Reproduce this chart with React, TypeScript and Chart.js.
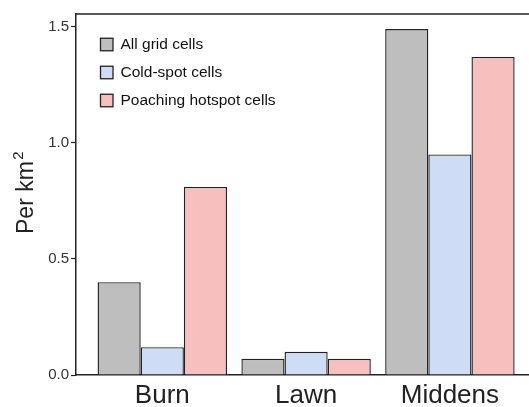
import React, { useEffect, useRef } from "react";
import { Chart, registerables } from "chart.js";

Chart.register(...registerables);

// Densities per km² by habitat type
const categories = ["Burn", "Lawn", "Middens"];
const allGridCells = [0.4, 0.07, 1.49];
const coldSpotCells = [0.12, 0.1, 0.95];
const hotspotCells = [0.81, 0.07, 1.37];
const seriesLabels = ["All grid cells", "Cold-spot cells", "Poaching hotspot cells"];
const yTickValues = [0, 0.5, 1.0, 1.5];
const yTitle = "Per km";
const yTitleSup = "2";

const seriesColors = ["#bebebe", "#cfdcf6", "#f8bfbf"];
const FONT = "'Liberation Sans', Arial, Helvetica, sans-serif";
const INK = "#222222";

// Legend drawn inside the plot, top-left
const insetLegend = {
  id: "insetLegend",
  afterDraw(chart: any) {
    const { ctx, chartArea } = chart;
    const boxX = chartArea.left + 24.5;
    const firstRow = chartArea.top + 30.5;
    const rowGap = 28;
    const box = 12.5;
    ctx.save();
    chart.data.datasets.forEach((ds: any, i: number) => {
      const cy = firstRow + i * rowGap;
      ctx.fillStyle = ds.backgroundColor;
      ctx.fillRect(boxX, cy - box / 2, box, box);
      ctx.strokeStyle = INK;
      ctx.lineWidth = 1.3;
      ctx.strokeRect(boxX, cy - box / 2, box, box);
      ctx.fillStyle = "#111111";
      ctx.font = `15.5px ${FONT}`;
      ctx.textBaseline = "middle";
      ctx.textAlign = "left";
      ctx.fillText(ds.label, boxX + 20, cy + 0.5);
    });
    ctx.restore();
  },
};

// Top edge of the plot frame
const frameTop = {
  id: "frameTop",
  afterDraw(chart: any) {
    const { ctx, chartArea } = chart;
    ctx.save();
    ctx.strokeStyle = INK;
    ctx.lineWidth = 1.5;
    ctx.beginPath();
    ctx.moveTo(chartArea.left, chartArea.top);
    ctx.lineTo(chartArea.right, chartArea.top);
    ctx.stroke();
    ctx.restore();
  },
};

// Rotated y-axis title with a superscript unit exponent
const yAxisTitle = {
  id: "yAxisTitle",
  afterDraw(chart: any) {
    const { ctx, chartArea } = chart;
    ctx.save();
    ctx.translate(33, chartArea.bottom - 141);
    ctx.rotate(-Math.PI / 2);
    ctx.fillStyle = INK;
    ctx.textBaseline = "alphabetic";
    ctx.textAlign = "left";
    ctx.font = `23px ${FONT}`;
    ctx.fillText(yTitle, 0, 0);
    const w = ctx.measureText(yTitle).width;
    ctx.font = `15px ${FONT}`;
    ctx.fillText(yTitleSup, w + 1.5, -10.5);
    ctx.restore();
  },
};

export default function App() {
  const canvasRef = useRef<HTMLCanvasElement | null>(null);

  useEffect(() => {
    const canvas = canvasRef.current;
    if (!canvas) return;
    const seriesValues = [allGridCells, coldSpotCells, hotspotCells];
    const chart = new Chart(canvas, {
      type: "bar",
      data: {
        datasets: seriesValues.map((vals, s) => ({
          label: seriesLabels[s],
          data: categories.map((_, i) => ({ x: i, y: vals[i] })),
          backgroundColor: seriesColors[s],
          borderColor: INK,
          borderWidth: 1.4,
          borderSkipped: "start",
          categoryPercentage: 0.9,
          barPercentage: 1.0,
        })),
      },
      options: {
        animation: false,
        responsive: false,
        layout: { padding: { top: 14, left: 0, right: 0, bottom: 0 } },
        plugins: {
          legend: { display: false },
          tooltip: { enabled: false },
        },
        scales: {
          x: {
            type: "linear",
            min: -0.6,
            max: 2.55,
            offset: false,
            z: 1,
            afterBuildTicks: (scale: any) => {
              scale.ticks = categories.map((_, i) => ({ value: i }));
            },
            afterFit: (scale: any) => {
              scale.height = 32;
            },
            grid: { display: true, offset: false, drawOnChartArea: false, drawTicks: false },
            border: { display: true, color: INK, width: 1.5 },
            ticks: {
              padding: 5,
              autoSkip: false,
              maxRotation: 0,
              color: INK,
              font: { family: FONT, size: 26 },
              callback: (v: any) => categories[Math.round(Number(v))] ?? "",
            },
          },
          y: {
            min: 0,
            max: 1.555,
            afterBuildTicks: (scale: any) => {
              scale.ticks = yTickValues.map((v) => ({ value: v }));
            },
            afterFit: (scale: any) => {
              scale.width = 76;
            },
            grid: {
              display: true,
              drawOnChartArea: false,
              drawTicks: true,
              tickLength: 5,
              tickColor: INK,
              tickWidth: 1.2,
            },
            border: { display: true, color: INK, width: 1.5 },
            ticks: {
              padding: 2,
              color: "#333333",
              font: { family: FONT, size: 15 },
              callback: (v: any) => Number(v).toFixed(1),
            },
          },
        },
      },
      plugins: [insetLegend, frameTop, yAxisTitle],
    });
    return () => chart.destroy();
  }, []);

  return (
    <div style={{ position: "absolute", left: 0, top: 0, width: 529, height: 407, background: "#ffffff" }}>
      <canvas ref={canvasRef} width={529} height={407} style={{ display: "block" }} />
    </div>
  );
}
